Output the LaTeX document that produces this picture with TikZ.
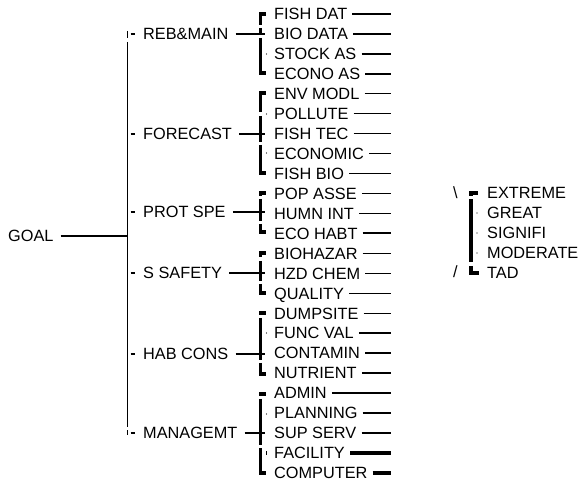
\documentclass[tikz,border=0pt]{standalone}
\usepackage{fontspec}
\setmainfont{Liberation Sans}
\begin{document}
\begin{tikzpicture}[x=1pt,y=-1pt,
  lbl/.style={anchor=west, inner sep=0pt, text height=11.6pt, text depth=0pt,
              font=\fontsize{16.3}{16.3}\selectfont},
  trunk/.style={line width=1.4pt},
  conn/.style={line width=1.5pt},
  tick/.style={line width=1.2pt},
  bar/.style={line width=3.3pt},
  hook/.style={fill=black}]
\useasboundingbox (0,0) rectangle (579,481);

% column references
\coordinate (ttop) at (127.5,42);
\coordinate (tbot) at (127.5,427);
\coordinate (bk) at (265,0);
\coordinate (rend) at (391,0);

% root
\node[lbl] (goal) at (8,236) {GOAL};
\draw[line width=1.7pt] ([xshift=7pt]goal.east) -- (goal.east -| ttop);

% trunk with its end ticks
\draw[trunk] (ttop) -- (tbot);
\draw[trunk] (127.5,31) -- (127.5,38);
\draw[trunk] (127.5,430) -- (127.5,435);

% second level
\foreach \n/\t/\y in {c1/{REB\&MAIN}/34, c2/FORECAST/134, c3/{PROT SPE}/212,
                      c4/{S SAFETY}/273, c5/{HAB CONS}/354, c6/MANAGEMT/433}{
  \node[lbl] (\n) at (143,\y) {\t};
  \draw[tick] ([xshift=-12.5pt]\n.west) -- ([xshift=-8.5pt]\n.west);
  \draw[conn] ([xshift=7pt]\n.east) -- (\n.east -| bk);
}

% third level with weight lines
\foreach \i/\t/\w in {0/{FISH DAT}/1.1, 1/{BIO DATA}/1.3, 2/{STOCK AS}/1.7, 3/{ECONO AS}/1.9,
                      4/{ENV MODL}/1.1, 5/POLLUTE/1.1, 6/{FISH TEC}/1.3, 7/ECONOMIC/1.1,
                      8/{FISH BIO}/1.3, 9/{POP ASSE}/1.9, 10/{HUMN INT}/1.7, 11/{ECO HABT}/1.9,
                      12/BIOHAZAR/1.7, 13/{HZD CHEM}/1.5, 14/QUALITY/1.3, 15/DUMPSITE/1.1,
                      16/{FUNC VAL}/1.7, 17/CONTAMIN/1.3, 18/NUTRIENT/1.3, 19/ADMIN/1.1,
                      20/PLANNING/1.3, 21/{SUP SERV}/1.5, 22/FACILITY/3.5, 23/COMPUTER/4.5}{
  \node[lbl] (l\i) at (274,{14+19.95*\i}) {\t};
  \draw[line width=\w pt] ([xshift=5pt]l\i.east) -- (l\i.east -| rend);
}

% group brackets: bar segments
\foreach \a/\b in {12.5/25.5, 28/35.5, 38/74.5,
                   91.5/112.5, 116/142.5, 145/174.5,
                   191.5/196, 199/221, 224/233.5,
                   251.5/257, 261/281, 284/294.5,
                   311.5/315, 318/360, 363/375.5,
                   392.5/396, 399/445, 448/474.5}{
  \draw[bar] (260.5,\a) -- (260.5,\b);
}
% top and bottom hooks
\foreach \y in {14,93,193,253,313,394}{
  \fill[hook] (258.85,{\y-1.6}) rectangle (266,{\y+1.6});
}
\foreach \y in {73,173,232,293,374,473}{
  \fill[hook] (258.85,{\y-1.6}) rectangle (266,{\y+1.6});
}
% small marks beside inner rows
\foreach \y in {54,114,153,333,414}{
  \fill (266.5,\y) circle (0.7);
}
\fill (266.2,450.5) rectangle (267.4,455);

% rating scale
\node[lbl] (s1) at (487,193) {EXTREME};
\node[lbl] (s2) at (487,213) {GREAT};
\node[lbl] (s3) at (487,233) {SIGNIFI};
\node[lbl] (s4) at (487,253) {MODERATE};
\node[lbl] (s5) at (487,273) {TAD};
\node[lbl] (bs) at (453,193) {\textbackslash};
\node[lbl] (fs) at (453,272) {/};
\foreach \a/\b in {191.5/196, 199.5/262, 266/274.5}{
  \draw[bar] (471,\a) -- (471,\b);
}
\fill[hook] (469.35,191.4) rectangle (478,194.6);
\fill[hook] (469.35,271.4) rectangle (479,274.6);
\foreach \y in {213,233,253}{
  \fill (477,\y) circle (0.7);
}
\end{tikzpicture}
\end{document}
